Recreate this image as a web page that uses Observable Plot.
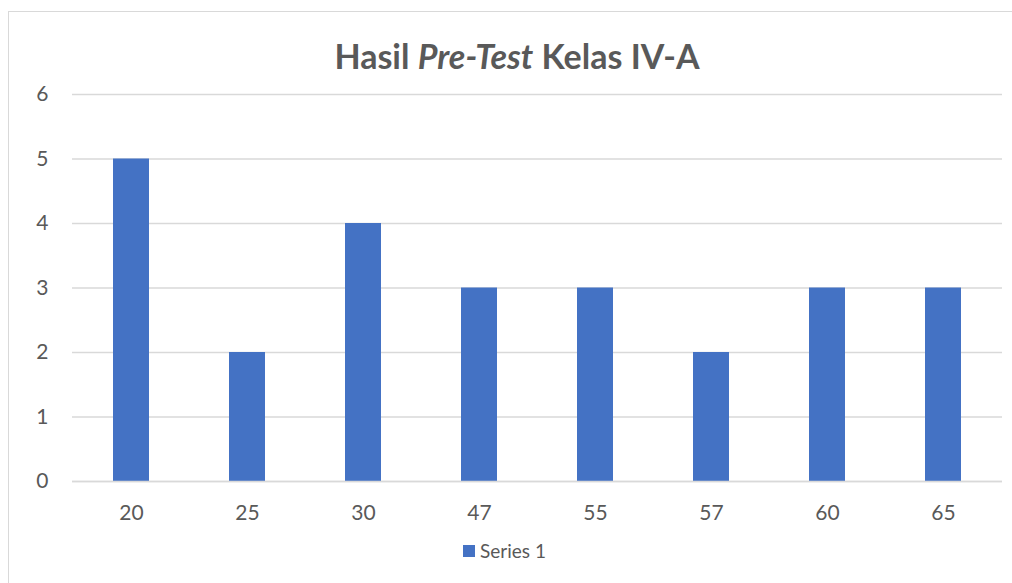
<!DOCTYPE html>
<html><head><meta charset="utf-8">
<script src="https://cdn.jsdelivr.net/npm/d3@7"></script>
<script src="https://cdn.jsdelivr.net/npm/@observablehq/plot@0.6"></script>
<style>
html,body{margin:0;padding:0;background:#fff;overflow:hidden;width:1012px;height:583px;}
#frame{position:absolute;left:8px;top:11px;width:1100px;height:700px;border:1px solid #d9d9d9;box-sizing:border-box;}
#title{position:absolute;left:217px;width:600px;top:35px;text-align:center;font-family:Lato,"Open Sans",sans-serif;font-weight:bold;font-size:34px;color:#595959;line-height:42px;}
#chart{position:absolute;left:0;top:80px;}
#legend{position:absolute;left:463px;top:539px;font-family:Lato,"Open Sans",sans-serif;font-size:19px;color:#595959;display:flex;align-items:center;line-height:24px;}
#legend .sw{width:12px;height:12px;background:#4472C4;margin-right:5px;}
</style></head>
<body>
<div id="frame"></div>
<div id="title">Hasil <i>Pre-Test</i> Kelas IV-A</div>
<div id="chart"></div>
<div id="legend"><span class="sw"></span><span>Series 1</span></div>
<script>
const categories = ["20","25","30","47","55","57","60","65"];
const values = [5,2,4,3,3,2,3,3];
const yTicks = [0,1,2,3,4,5,6];
const seriesName = "Series 1";

const data = categories.map((c,i)=>({score:c, count:values[i], series:seriesName}));

const chart = Plot.plot({
  width: 1012,
  height: 460,
  marginLeft: 72,
  marginRight: 10,
  marginTop: 14,
  marginBottom: 59,
  style: {fontFamily: "Lato, 'Open Sans', sans-serif", fontSize: "21px", color: "#595959", background: "transparent"},
  x: {domain: categories, paddingInner: 0.686, paddingOuter: 0.343, label: null, tickSize: 0, tickPadding: 24},
  y: {domain: [0,6], ticks: yTicks, label: null, tickSize: 0, tickPadding: 24, tickFormat: d3.format("d")},
  marks: [
    Plot.ruleY(yTicks, {stroke: "#d9d9d9", strokeWidth: 1.5}),
    Plot.barY(data, {x: "score", y: "count", fill: "#4472C4"}),
    Plot.ruleY([0], {stroke: "#d9d9d9", strokeWidth: 1.5})
  ]
});
document.getElementById("chart").appendChild(chart);
</script>
</body></html>
